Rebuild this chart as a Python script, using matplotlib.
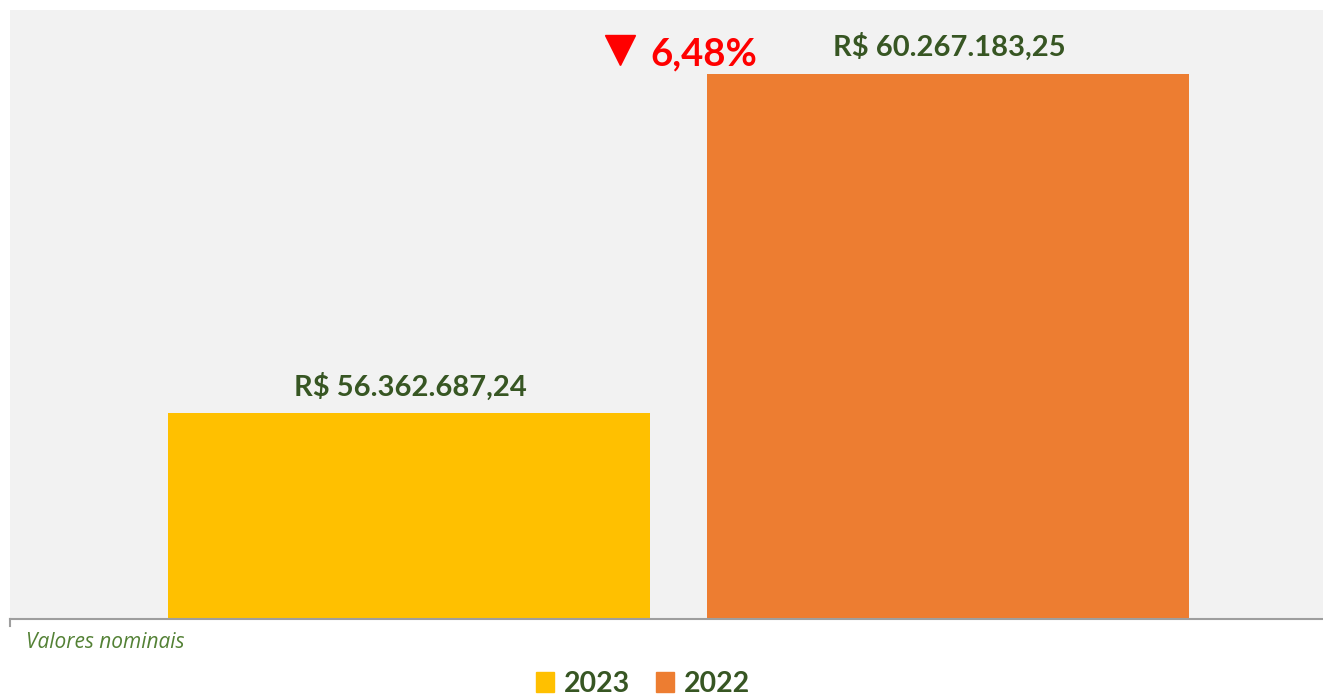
import matplotlib
matplotlib.use("Agg")
import matplotlib.pyplot as plt
from matplotlib.patches import Rectangle
from matplotlib.lines import Line2D

years = ["2023", "2022"]
values = [56362687.24, 60267183.25]
labels = ["R$ 56.362.687,24", "R$ 60.267.183,25"]
change_label = "6,48%"
colors = ["#FFC000", "#ED7D31"]
ymin, ymax = 54_000_000, 61_000_000

FONT = ["Lato", "DejaVu Sans"]
green = "#375623"
W, H = 1323, 696

fig = plt.figure(figsize=(13.23, 6.96), dpi=100)
ax = fig.add_axes([10/W, 77/H, 1313/W, 609/H])
ax.set_facecolor("#F2F2F2")

pos = [0, 1]
ax.bar(pos, [v - ymin for v in values], bottom=ymin, width=0.894, color=colors, zorder=2)
ax.set_xlim(-0.7403, 1.6957)
ax.set_ylim(ymin, ymax)
for p, v, lab in zip(pos, values, labels):
    ax.annotate(lab, (p, v), xytext=(1, 9), textcoords="offset points",
                ha="center", va="bottom", fontsize=21, fontweight="bold",
                color=green, family=FONT)

# change indicator
fig.add_artist(Line2D([620/W], [1 - 50/H], marker="v", markersize=21,
                      color="#FF0000", linestyle="none"))
fig.text(650/W, 1 - 65/H, change_label, ha="left", va="baseline", fontsize=27.5,
         fontweight="bold", color="#FF0000", family=FONT)

for s in ["top", "right", "left"]:
    ax.spines[s].set_visible(False)
ax.spines["bottom"].set_color("#9E9E9E")
ax.spines["bottom"].set_linewidth(1.5)
ax.set_xticks([])
ax.set_yticks([])
fig.add_artist(Line2D([9.5/W, 9.5/W], [1 - 619/H, 1 - 626/H], color="#9E9E9E", linewidth=1.5))

fig.text(26/W, 1 - 642/H, "Valores nominais", fontsize=15, style="italic",
         color="#538135", family=["Open Sans", "DejaVu Sans"], va="center", ha="left")

# legend
handles = [Rectangle((0, 0), 1, 1, color=c) for c in colors]
leg = fig.legend(handles, years, loc="center", bbox_to_anchor=(643/W, 1 - 684/H),
                 ncol=2, frameon=False, handlelength=0.65, handleheight=0.65,
                 handletextpad=0.35, columnspacing=0.9,
                 prop={"family": FONT, "weight": "bold", "size": 20.5})
for t in leg.get_texts():
    t.set_color(green)

fig.savefig("out.png", dpi=100)
